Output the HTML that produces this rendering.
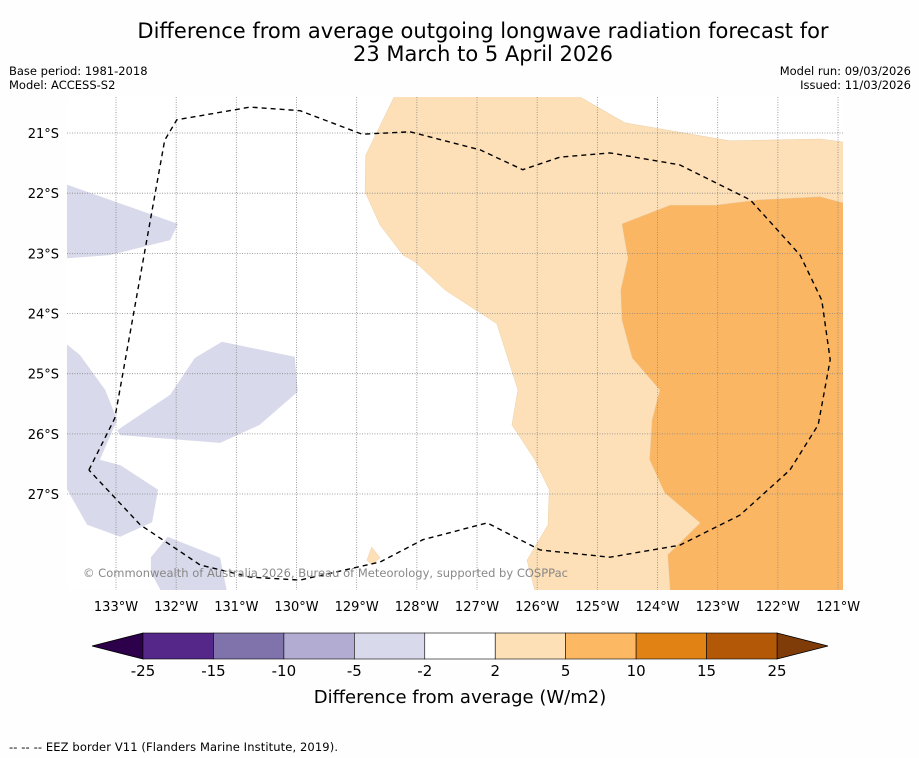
<!DOCTYPE html>
<html><head><meta charset="utf-8"><style>
body{margin:0;background:#fefefe;width:919px;height:758px;overflow:hidden;font-family:"Liberation Sans","DejaVu Sans",sans-serif}
svg{display:block}
</style></head><body>
<svg id="c" width="919" height="758" xmlns="http://www.w3.org/2000/svg">
<text x="483" y="38" font-size="21" text-anchor="middle" font-family="DejaVu Sans,sans-serif">Difference from average outgoing longwave radiation forecast for</text>
<text x="483" y="61" font-size="21" text-anchor="middle" font-family="DejaVu Sans,sans-serif">23 March to 5 April 2026</text>
<text x="9" y="75" font-size="11.5" font-family="DejaVu Sans,sans-serif">Base period: 1981-2018</text>
<text x="9" y="89" font-size="11.5" font-family="DejaVu Sans,sans-serif">Model: ACCESS-S2</text>
<text x="911" y="75" font-size="11.5" text-anchor="end" font-family="DejaVu Sans,sans-serif">Model run: 09/03/2026</text>
<text x="911" y="89" font-size="11.5" text-anchor="end" font-family="DejaVu Sans,sans-serif">Issued: 11/03/2026</text>
<defs><clipPath id="mc"><rect x="67" y="97" width="776" height="493"/></clipPath></defs>
<g id="map" clip-path="url(#mc)"></g>
<g id="grid"></g>
<g id="eez" clip-path="url(#mc)"></g>
<text x="83" y="577" font-size="11.5" fill="#888" font-family="DejaVu Sans,sans-serif" textLength="485">© Commonwealth of Australia 2026, Bureau of Meteorology, supported by COSPPac</text>
<g id="labels" font-family="DejaVu Sans,sans-serif" font-size="13"></g>
<g id="cbar"></g>
<text x="460" y="703" font-size="18" text-anchor="middle" font-family="DejaVu Sans,sans-serif">Difference from average (W/m2)</text>
<text x="9" y="751" font-size="11.5" font-family="DejaVu Sans,sans-serif" textLength="329">--  --  -- EEZ border V11 (Flanders Marine Institute, 2019).</text>
</svg>
<script>
const lonTicks=[133,132,131,130,129,128,127,126,125,124,123,122,121];
const latTicks=[21,22,23,24,25,26,27];
const cbBounds=[-25,-15,-10,-5,-2,2,5,10,15,25];
const cbColors=["#542788","#8073ac","#b2abd2","#d8daeb","#ffffff","#fee0b6","#fdb863","#e08214","#b35806"];
const lightOrangeLon=[128.33,128.85,128.86,128.61,128.23,128.03,127.53,126.67,126.32,126.42,126.04,125.80,125.82,126.17,126.04,126.04,120.5,120.5,120.92,121.30,122.80,124.54,125.29,125.5];
const lightOrangeLat=[20.3,21.37,21.98,22.53,23.03,23.14,23.61,24.17,25.27,25.85,26.43,26.93,27.51,28.10,28.60,28.9,28.9,21.15,21.15,21.10,21.13,20.83,20.40,20.3];
const darkOrangeLon=[124.59,123.79,123.04,122.30,121.30,120.92,120.5,120.5,123.79,123.79,123.83,123.29,123.88,124.13,124.09,123.96,124.42,124.59,124.61,124.49];
const darkOrangeLat=[22.51,22.20,22.20,22.11,22.06,22.16,22.16,28.9,28.9,28.6,28.01,27.48,26.98,26.43,25.77,25.27,24.74,24.11,23.61,23.08];
const lavALon=[134,133.81,131.97,132.10,133.10,133.81,134];
const lavALat=[21.86,21.86,22.51,22.78,23.03,23.08,23.08];
const lavBLon=[134,133.81,133.60,133.18,132.98,133.27,132.93,132.30,132.40,132.93,133.48,133.81,134];
const lavBLat=[24.52,24.52,24.69,25.27,25.77,26.43,26.52,26.93,27.47,27.71,27.51,26.93,26.93];
const lavCLon=[132.98,132.10,131.69,131.24,130.03,129.98,130.61,131.27,132.93];
const lavCLat=[25.94,25.35,24.74,24.47,24.72,25.30,25.85,26.15,26.02];
const lavDLon=[132.42,132.14,131.27,131.16,131.1,132.1,132.42];
const lavDLat=[28.05,27.71,28.06,28.6,28.9,28.9,28.3];
const islandLon=[128.83,128.75,128.61,128.75];
const islandLat=[28.10,27.88,28.06,28.18];
const eezLon=[133.45,133.02,132.19,131.99,130.77,129.94,128.91,128.11,126.95,126.24,125.62,124.79,123.63,122.46,121.63,121.27,121.13,121.33,121.80,122.63,123.63,124.79,125.95,126.83,127.90,128.61,129.94,130.77,131.60,132.60,133.45];
const eezLat=[26.60,25.74,21.12,20.78,20.57,20.63,21.02,20.98,21.28,21.61,21.40,21.33,21.53,22.11,23.03,23.78,24.77,25.85,26.60,27.35,27.85,28.05,27.93,27.48,27.76,28.13,28.43,28.38,28.18,27.51,26.60];

const NS="http://www.w3.org/2000/svg";
const px=lon=>116+(133-lon)*60.17;
const py=lat=>133+(lat-21)*60.17;
const cbx=v=>{let i=cbBounds.findIndex((b,k)=>k<cbBounds.length-1&&v<=cbBounds[k+1]);if(i<0)i=cbBounds.length-2;const f=(v-cbBounds[i])/(cbBounds[i+1]-cbBounds[i]);return 143+(i+f)*(634/9);};
function mk(t,a,p){const e=document.createElementNS(NS,t);for(const k in a)e.setAttribute(k,a[k]);p.appendChild(e);return e;}
const pts=(lo,la)=>lo.map((l,i)=>px(l).toFixed(1)+","+py(la[i]).toFixed(1)).join(" ");
const map=document.getElementById("map");
mk("rect",{x:67,y:97,width:776,height:493,fill:"#fff"},map);
function poly(lo,la,fill,name){const e=mk("polygon",{points:pts(lo,la),fill:fill,stroke:"#e6c8a0","stroke-width":0.4},map);

}
poly(lightOrangeLon,lightOrangeLat,"#fde0b7","anomaly-2-to-5");
poly(darkOrangeLon,darkOrangeLat,"#fbb663","anomaly-5-to-10");
poly(islandLon,islandLat,"#fde0b7","anomaly-2-to-5-small");
[[lavALon,lavALat],[lavBLon,lavBLat],[lavCLon,lavCLat],[lavDLon,lavDLat]].forEach((p,i)=>{const e=mk("polygon",{points:pts(p[0],p[1]),fill:"#d8d9ea"},map);

});
const grid=document.getElementById("grid");
lonTicks.forEach(l=>{mk("line",{x1:px(l),x2:px(l),y1:97,y2:590,stroke:"#888","stroke-width":0.8,"stroke-dasharray":"1,1.5"},grid);});
latTicks.forEach(l=>{mk("line",{x1:67,x2:843,y1:py(l),y2:py(l),stroke:"#888","stroke-width":0.8,"stroke-dasharray":"1,1.5"},grid);});
const eez=mk("polyline",{points:pts(eezLon,eezLat),fill:"none",stroke:"#000","stroke-width":1.4,"stroke-dasharray":"5,4"},document.getElementById("eez"));


const lab=document.getElementById("labels");
lonTicks.forEach(l=>{const t=mk("text",{x:px(l),y:611,"text-anchor":"middle"},lab);t.textContent=l+"°W";

});
latTicks.forEach(l=>{const t=mk("text",{x:59,y:py(l)+5,"text-anchor":"end"},lab);t.textContent=l+"°S";

});
const cb=document.getElementById("cbar");
const y0=633,h=26;
const lt=mk("polygon",{points:`${cbx(-25)},${y0} 92,${y0+h/2} ${cbx(-25)},${y0+h}`,fill:"#2d004b",stroke:"#000","stroke-width":0.8},cb);


const rt=mk("polygon",{points:`${cbx(25)},${y0} 828,${y0+h/2} ${cbx(25)},${y0+h}`,fill:"#7f3b08",stroke:"#000","stroke-width":0.8},cb);


cbColors.forEach((c,i)=>{const x1=cbx(cbBounds[i]),x2=cbx(cbBounds[i+1]);
const r=mk("rect",{x:x1,y:y0,width:x2-x1,height:h,fill:c,stroke:"#000","stroke-width":0.6},cb);

});
cbBounds.forEach(b=>{const t=mk("text",{x:cbx(b),y:676,"text-anchor":"middle","font-size":15,"font-family":"DejaVu Sans,sans-serif"},cb);t.textContent=b;

});
</script>
</body></html>
